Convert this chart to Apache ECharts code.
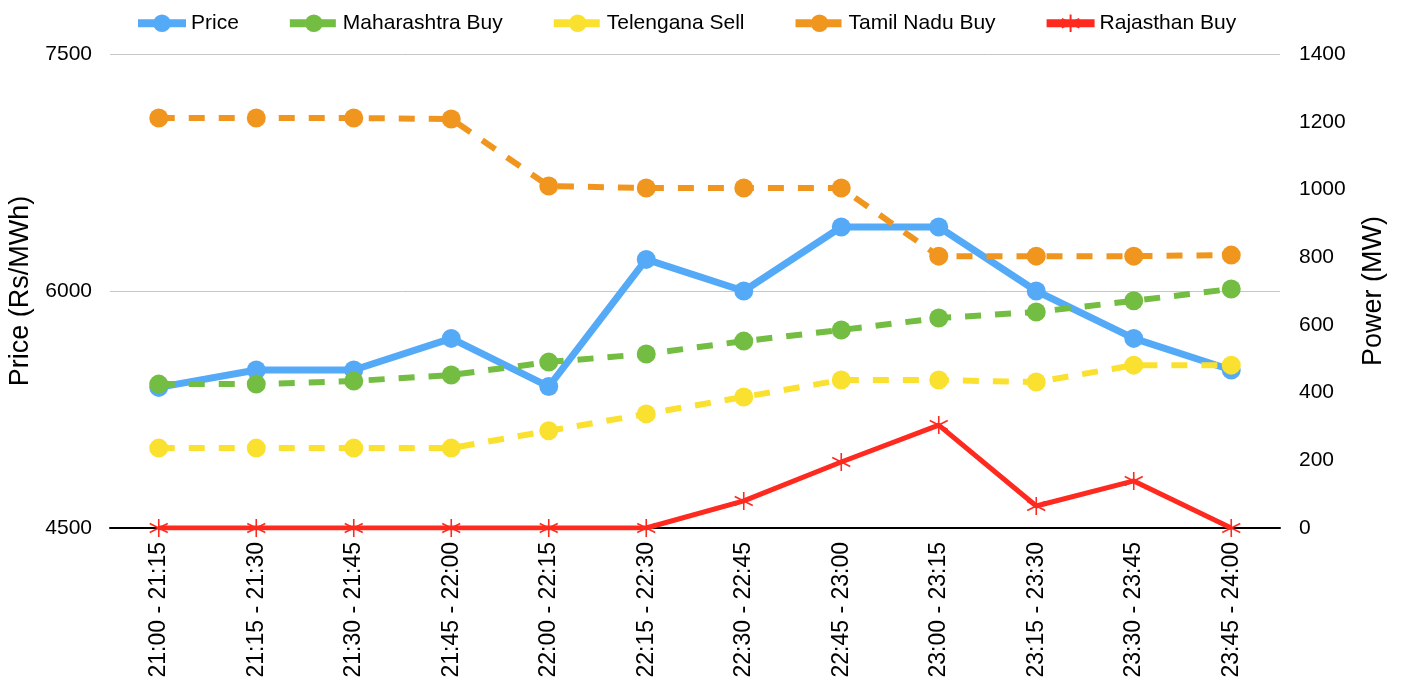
<!DOCTYPE html>
<html>
<head>
<meta charset="utf-8">
<script src="https://cdn.jsdelivr.net/npm/echarts@6/dist/echarts.min.js"></script>
<style>
  html, body { margin: 0; padding: 0; background: #fff; }
  #chart { width: 1403px; height: 683px; }
</style>
</head>
<body>
<div id="chart"></div>
<script>
// time blocks
const categories = [
  '21:00 - 21:15', '21:15 - 21:30', '21:30 - 21:45', '21:45 - 22:00',
  '22:00 - 22:15', '22:15 - 22:30', '22:30 - 22:45', '22:45 - 23:00',
  '23:00 - 23:15', '23:15 - 23:30', '23:30 - 23:45', '23:45 - 24:00'
];

// Rs/MWh (left axis)
const price = [5390, 5500, 5500, 5700, 5395, 6200, 6000, 6405, 6405, 6000, 5700, 5500];

// MW (right axis)
const maharashtraBuy = [425, 425, 434, 452, 490, 514, 552, 585, 620, 638, 671, 706];
const telenganaSell = [236, 236, 236, 236, 287, 337, 387, 437, 437, 431, 481, 481];
const tamilNaduBuy = [1211, 1211, 1211, 1208, 1010, 1004, 1004, 1004, 803, 803, 803, 806];
const rajasthanBuy = [0, 0, 0, 0, 0, 0, 80, 195, 304, 65, 139, 0];

const font = 'Liberation Sans, Arial, sans-serif';
const star = 'path://M10,0L10,20M1.3,5L18.7,15M1.3,15L18.7,5';
const plain = v => String(v);

const chart = echarts.init(document.getElementById('chart'));

function dashed(name, data, color) {
  return {
    name: name,
    type: 'line',
    yAxisIndex: 1,
    data: data,
    symbol: 'circle',
    symbolSize: 19,
    z: 3,
    itemStyle: { color: color },
    lineStyle: { color: color, width: 6, type: [16, 14] }
  };
}

chart.setOption({
  animation: false,
  textStyle: { fontFamily: font },
  legend: {
    top: 7,
    left: 129,
    itemWidth: 48,
    itemHeight: 22,
    itemGap: 47,
    lineStyle: { width: 8 },
    textStyle: { fontSize: 21, color: '#000', fontFamily: font }
  },
  grid: { left: 110, right: 123, top: 54, bottom: 155, outerBoundsMode: 'none', containLabel: false },
  xAxis: {
    type: 'category',
    data: categories,
    boundaryGap: true,
    axisLine: { lineStyle: { color: '#000', width: 2 } },
    axisTick: { show: false },
    axisLabel: { rotate: 90, fontSize: 23, color: '#000', margin: 14, fontFamily: font }
  },
  yAxis: [
    {
      type: 'value',
      name: 'Price (Rs/MWh)',
      nameLocation: 'middle',
      nameRotate: 90,
      nameGap: 76,
      nameTextStyle: { fontSize: 27, color: '#000', fontFamily: font },
      min: 4500,
      max: 7500,
      interval: 1500,
      axisLine: { show: false },
      axisTick: { show: false },
      axisLabel: { fontSize: 21, color: '#000', margin: 18, fontFamily: font, formatter: plain },
      splitLine: { lineStyle: { color: '#c6c6c6', width: 1 } }
    },
    {
      type: 'value',
      name: 'Power (MW)',
      nameLocation: 'middle',
      nameRotate: 90,
      nameGap: 80,
      nameTextStyle: { fontSize: 27, color: '#000', fontFamily: font },
      min: 0,
      max: 1400,
      interval: 200,
      axisLine: { show: false },
      axisTick: { show: false },
      axisLabel: { fontSize: 21, color: '#000', margin: 19, fontFamily: font, formatter: plain },
      splitLine: { show: false }
    }
  ],
  series: [
    {
      name: 'Price',
      type: 'line',
      yAxisIndex: 0,
      data: price,
      symbol: 'circle',
      symbolSize: 19,
      z: 2,
      itemStyle: { color: '#55aaf7' },
      lineStyle: { color: '#55aaf7', width: 7 }
    },
    dashed('Maharashtra Buy', maharashtraBuy, '#72bd42'),
    dashed('Telengana Sell', telenganaSell, '#fbe12f'),
    dashed('Tamil Nadu Buy', tamilNaduBuy, '#f0961f'),
    {
      name: 'Rajasthan Buy',
      type: 'line',
      yAxisIndex: 1,
      data: rajasthanBuy,
      symbol: star,
      symbolSize: 18,
      z: 4,
      itemStyle: { color: 'none', borderColor: '#ff2a1f', borderWidth: 1.6 },
      lineStyle: { color: '#ff2a1f', width: 5 }
    }
  ]
});
</script>
</body>
</html>
